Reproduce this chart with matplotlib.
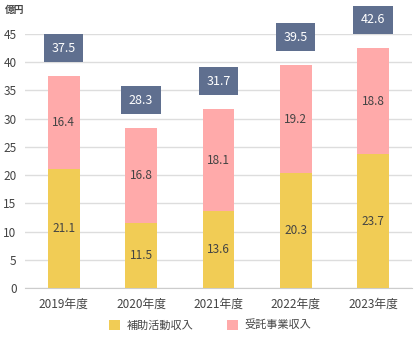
import matplotlib
matplotlib.use("Agg")
import matplotlib.pyplot as plt
import numpy as np

plt.rcParams['font.family'] = ['Noto Sans CJK JP', 'DejaVu Sans']

years = ['2019年度', '2020年度', '2021年度', '2022年度', '2023年度']
hojo = [21.1, 11.5, 13.6, 20.3, 23.7]
jutaku = [16.4, 16.8, 18.1, 19.2, 18.8]
totals = [37.5, 28.3, 31.7, 39.5, 42.6]

c_yellow = '#f1cc55'
c_pink = '#ffaaaa'
c_box = '#5f6f8f'
c_text = '#444444'

fig = plt.figure(figsize=(4.16, 3.6), dpi=100)
ax = fig.add_axes([0.06, 0.2, 0.93, 0.7056])

x = np.arange(len(years))
w = 0.41
ax.bar(x, hojo, w, color=c_yellow, label='補助活動収入', zorder=3)
ax.bar(x, jutaku, w, bottom=hojo, color=c_pink, label='受託事業収入', zorder=3)

for i in range(len(years)):
    ax.text(x[i], hojo[i] / 2, f'{hojo[i]:.1f}', ha='center', va='center',
            fontsize=8.5, color=c_text, zorder=4)
    ax.text(x[i], hojo[i] + jutaku[i] / 2, f'{jutaku[i]:.1f}', ha='center',
            va='center', fontsize=8.5, color=c_text, zorder=4)
    ax.annotate(f'{totals[i]:.1f}', (x[i], totals[i]), xytext=(0, 28),
                textcoords='offset pixels', ha='center', va='center',
                fontsize=9, color='white', annotation_clip=False,
                bbox=dict(boxstyle='square,pad=0.6', fc=c_box, ec='none'))

ax.set_xlim(-0.5, len(years) - 0.5)
ax.set_ylim(0, 45)
ax.set_yticks(range(0, 46, 5))
ax.set_xticks(x)
ax.set_xticklabels(years)
ax.grid(axis='y', color='#dddddd', linewidth=1, zorder=0)
for s in ['top', 'right', 'left']:
    ax.spines[s].set_visible(False)
ax.spines['bottom'].set_color('#cccccc')
ax.tick_params(length=0, labelsize=8.5, colors=c_text)
ax.tick_params(axis='x', pad=7)
ax.tick_params(axis='y', pad=6)

fig.text(0.012, 0.985, '億円', ha='left', va='top', fontsize=7, color=c_text,
         fontweight='bold')

ax.legend(loc='center', bbox_to_anchor=(0.478, -0.146), ncol=2,
          frameon=False, fontsize=8, handlelength=1.0, handleheight=1.0,
          columnspacing=3.0, handletextpad=0.6, labelcolor=c_text)

fig.savefig('out.png', dpi=100)
